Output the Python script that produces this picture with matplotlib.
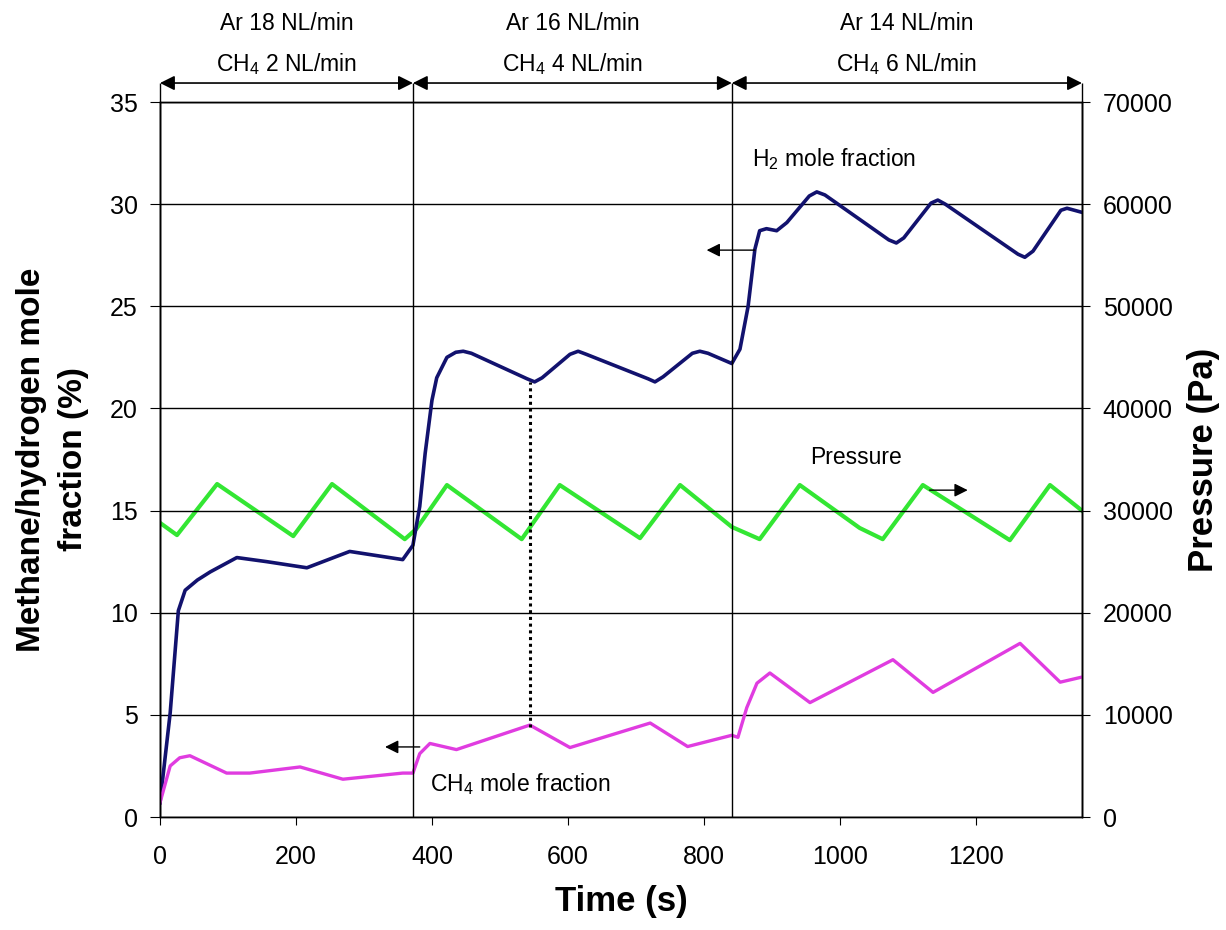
import matplotlib
matplotlib.use("Agg")
import matplotlib.pyplot as plt

plt.rcParams.update(
    {
        "font.family": ["Liberation Sans", "DejaVu Sans"],
        "mathtext.default": "regular",
        "font.size": 16,
        "axes.linewidth": 1.0,
    }
)

# time (s) and mole fractions (%)
h2_time = [0, 15, 27, 37, 55, 74, 113, 157, 216, 279, 357, 372, 382, 390, 400, 407, 422, 435,
           446, 458, 540, 551, 562, 603, 615, 627, 718, 728, 740, 783, 794, 806, 841, 853, 865,
           875, 882, 892, 907, 922, 955, 966, 978, 1072, 1083, 1094, 1134, 1144, 1155, 1262,
           1272, 1284, 1325, 1334, 1356]
h2_frac = [0.7, 5.1, 10.1, 11.1, 11.6, 12.0, 12.7, 12.5, 12.2, 13.0, 12.6, 13.3, 15.2, 17.8,
           20.4, 21.5, 22.5, 22.75, 22.8, 22.7, 21.45, 21.3, 21.5, 22.65, 22.8, 22.65, 21.45,
           21.3, 21.55, 22.7, 22.8, 22.7, 22.2, 22.9, 25.0, 27.8, 28.7, 28.8, 28.7, 29.1, 30.4,
           30.6, 30.45, 28.25, 28.1, 28.35, 30.05, 30.2, 30.0, 27.55, 27.4, 27.7, 29.7, 29.8,
           29.6]

ch4_time = [0, 15, 29, 44, 98, 132, 206, 269, 357, 372, 382, 397, 436, 544, 603, 721, 776,
            841, 850, 863, 878, 897, 956, 1078, 1137, 1265, 1324, 1356]
ch4_frac = [0.7, 2.5, 2.9, 3.0, 2.15, 2.15, 2.45, 1.85, 2.15, 2.15, 3.1, 3.6, 3.3, 4.5, 3.4,
            4.6, 3.45, 4.0, 3.9, 5.35, 6.55, 7.05, 5.6, 7.7, 6.1, 8.5, 6.6, 6.85]

p_time = [0, 25, 84, 196, 253, 360, 377, 422, 532, 588, 706, 765, 841, 882, 941, 1029, 1063,
          1122, 1250, 1309, 1356]
pressure = [28800, 27600, 32600, 27500, 32600, 27200, 28200, 32500, 27200, 32500, 27300,
            32500, 28400, 27200, 32500, 28300, 27200, 32500, 27100, 32500, 30000]

step_edges = [0, 372, 841, 1356]
step_ar = ["Ar 18 NL/min", "Ar 16 NL/min", "Ar 14 NL/min"]
step_ch4 = ["CH$_4$ 2 NL/min", "CH$_4$ 4 NL/min", "CH$_4$ 6 NL/min"]

fig = plt.figure(figsize=(12.26, 9.3), dpi=100)
ax = fig.add_axes([0.1305, 0.1215, 0.752, 0.7688])
ax2 = ax.twinx()

ax.set_xlim(0, 1356)
ax.set_ylim(0, 35)
ax.set_yticks(range(0, 36, 5))
ax.set_xticks(range(0, 1201, 200))
ax2.set_ylim(0, 70000)
ax2.set_yticks(range(0, 70001, 10000))
ax.grid(axis="y", color="black", linewidth=1.0)
ax.tick_params(axis="y", direction="out", length=7, pad=9, labelsize=18)
ax.tick_params(axis="x", direction="out", length=6, pad=14, labelsize=18)
ax2.tick_params(direction="out", length=6, pad=9, labelsize=18)
ax.set_zorder(ax2.get_zorder() + 1)
ax.patch.set_visible(False)

ax2.plot(p_time, pressure, color="#33e633", linewidth=3.0)
ax.plot(h2_time, h2_frac, color="#12126e", linewidth=2.6)
ax.plot(ch4_time, ch4_frac, color="#e03ce0", linewidth=2.4)

# step boundaries and the double arrows above the plot
top = 35.93
ax.vlines(step_edges, 0, top, color="black", linewidth=1.0, clip_on=False)
for i in range(3):
    ax.annotate("", xy=(step_edges[i], top), xytext=(step_edges[i + 1], top),
                arrowprops=dict(arrowstyle="<|-|>", color="black", lw=1.2,
                                mutation_scale=22, shrinkA=0, shrinkB=0),
                annotation_clip=False)
    mid = (step_edges[i] + step_edges[i + 1]) / 2
    ax.text(mid, 38.85, step_ar[i], ha="center", va="center", fontsize=16.5, clip_on=False)
    ax.text(mid, 36.85, step_ch4[i], ha="center", va="center", fontsize=16.5, clip_on=False)

ax.vlines(544, 4.4, 21.3, color="black", linewidth=2.2, linestyles=(0, (1, 1.2)))

ax.text(870, 32.2, "H$_2$ mole fraction", fontsize=16.5, va="center")
ax.annotate("", xy=(804, 27.75), xytext=(875, 27.75),
            arrowprops=dict(arrowstyle="-|>", color="black", lw=1, mutation_scale=20,
                            shrinkA=0, shrinkB=0))
ax.text(956, 17.6, "Pressure", fontsize=16.5, va="center")
ax.annotate("", xy=(1188, 16.0), xytext=(1132, 16.0),
            arrowprops=dict(arrowstyle="-|>", color="black", lw=1, mutation_scale=20,
                            shrinkA=0, shrinkB=0))
ax.text(397, 1.6, "CH$_4$ mole fraction", fontsize=16.5, va="center")
ax.annotate("", xy=(331, 3.43), xytext=(382, 3.43),
            arrowprops=dict(arrowstyle="-|>", color="black", lw=1, mutation_scale=20,
                            shrinkA=0, shrinkB=0))

ax.set_xlabel("Time (s)", fontsize=25, fontweight="bold", labelpad=12)
ax.set_ylabel("Methane/hydrogen mole\nfraction (%)", fontsize=24, fontweight="bold",
              labelpad=15, linespacing=1.45)
ax2.set_ylabel("Pressure (Pa)", fontsize=25, fontweight="bold", labelpad=10)

fig.savefig("out.png", dpi=100)
